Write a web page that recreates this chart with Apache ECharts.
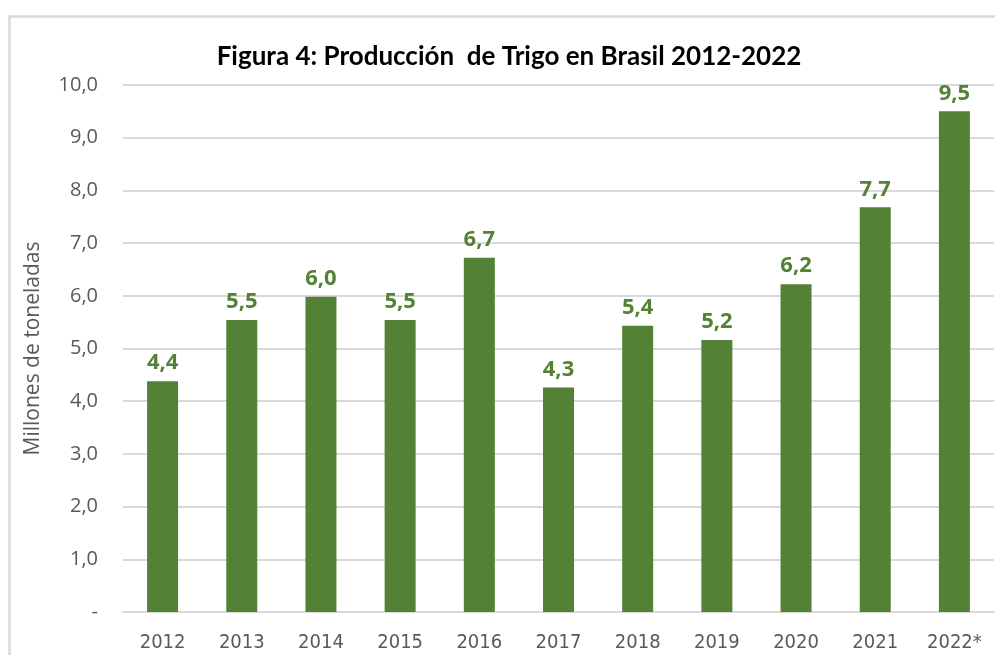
<!DOCTYPE html>
<html>
<head>
<meta charset="utf-8">
<script src="https://cdn.jsdelivr.net/npm/echarts@6/dist/echarts.min.js"></script>
<style>
  html, body { margin: 0; padding: 0; background: #fff; }
  #chart { width: 995px; height: 655px; }
</style>
</head>
<body>
<div id="chart"></div>
<script>
// years (2022 is an estimate)
const years = ['2012', '2013', '2014', '2015', '2016', '2017', '2018', '2019', '2020', '2021', '2022*']
// wheat production, millions of tonnes
const production = [4.38, 5.54, 5.98, 5.54, 6.72, 4.26, 5.43, 5.16, 6.22, 7.68, 9.5]

const green = '#538135'
const fmt = v => v.toFixed(1).replace('.', ',')

const chart = echarts.init(document.getElementById('chart'))

const options = {
  animation: false,
  title: {
    text: 'Figura 4: Producción  de Trigo en Brasil 2012-2022',
    left: 504,
    top: 39,
    textAlign: 'center',
    textStyle: {
      fontFamily: 'Lato',
      fontWeight: 'bold',
      fontSize: 26,
      color: '#000'
    }
  },
  graphic: [{
    type: 'polyline',
    shape: { points: [[9.5, 700], [9.5, 16.5], [1000, 16.5]] },
    style: { stroke: '#d9d9d9', lineWidth: 2.5, fill: null }
  }],
  grid: {
    left: 123,
    right: 1,
    top: 85,
    bottom: 43
  },
  xAxis: {
    type: 'category',
    data: years,
    axisTick: { show: false },
    axisLine: { lineStyle: { color: '#d9d9d9', width: 2 } },
    axisLabel: {
      margin: 21,
      fontFamily: 'DejaVu Sans Condensed',
      fontSize: 20,
      color: '#595959'
    }
  },
  yAxis: {
    type: 'value',
    min: 0,
    max: 10,
    interval: 1,
    name: 'Millones de toneladas',
    nameLocation: 'middle',
    nameGap: 79,
    nameTextStyle: {
      fontFamily: 'Open Sans',
      fontSize: 21,
      color: '#595959'
    },
    axisLine: { show: false },
    axisTick: { show: false },
    axisLabel: {
      margin: 25,
      fontFamily: 'Open Sans',
      fontSize: 20,
      color: '#595959',
      formatter: v => v === 0 ? '-' : fmt(v)
    },
    splitLine: { lineStyle: { color: '#d9d9d9', width: 2 } }
  },
  series: [{
    type: 'bar',
    data: production,
    barWidth: 31,
    itemStyle: { color: green },
    label: {
      show: true,
      position: 'top',
      distance: 7,
      fontFamily: 'Open Sans',
      fontWeight: 'bold',
      fontSize: 22,
      color: green,
      formatter: p => fmt(p.value)
    }
  }]
}

chart.setOption(options)
</script>
</body>
</html>
